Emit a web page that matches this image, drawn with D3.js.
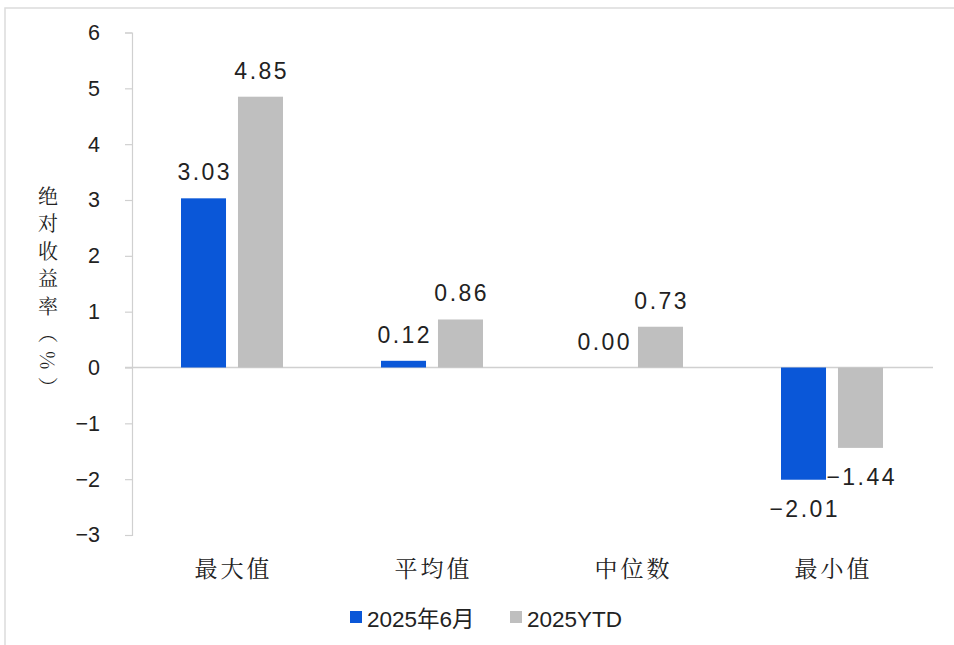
<!DOCTYPE html>
<html><head><meta charset="utf-8">
<script src="https://cdn.jsdelivr.net/npm/d3@7"></script>
<style>
body{margin:0;background:#fff;}
svg{display:block;}
</style></head>
<body>
<svg id="chart" width="954" height="645"></svg>
<script>
const categories = ["最大值", "平均值", "中位数", "最小值"];
const seriesNames = ["2025年6月", "2025YTD"];
const seriesJune = [3.03, 0.12, 0.00, -2.01];
const seriesYTD = [4.85, 0.86, 0.73, -1.44];
const yTicks = [6, 5, 4, 3, 2, 1, 0, -1, -2, -3];
const colors = ["#0a57d8", "#bfbfbf"];
const yTitle = "绝对收益率（%）";

const svg = d3.select("#chart");
const numFont = "'Liberation Sans', Arial, sans-serif";
const cjkSerif = "'Noto Serif CJK SC', 'Noto Sans CJK SC', serif";

// border
svg.append("rect").attr("x", 5).attr("y", 8).attr("width", 960).attr("height", 660)
  .attr("fill", "none").attr("stroke", "#dcdcdc").attr("stroke-width", 1.5);

const y = d3.scaleLinear().domain([-3, 6]).range([535, 32.5]);
const x0 = d3.scaleBand().domain(categories).range([132, 932]).padding(0);
const x1 = d3.scaleBand().domain(seriesNames).range([0, x0.bandwidth()])
  .paddingInner(0.21).paddingOuter(0.86);

// y axis
const yAxis = d3.axisLeft(y).tickValues(yTicks).tickSize(7).tickPadding(25)
  .tickFormat(d => d < 0 ? "\u2212" + Math.abs(d) : String(d));
const gy = svg.append("g").attr("transform", "translate(132,0)").call(yAxis);
gy.select(".domain").attr("stroke", "#d0d0d0").attr("stroke-width", 1.2);
gy.selectAll(".tick line").attr("stroke", "#d0d0d0").attr("stroke-width", 1.2);
gy.selectAll(".tick text").attr("font-family", numFont).attr("font-size", 21.5)
  .attr("fill", "#222");

// zero line
svg.append("line").attr("x1", 125).attr("x2", 933).attr("y1", y(0)).attr("y2", y(0))
  .attr("stroke", "#d0d0d0").attr("stroke-width", 1.5);

const data = categories.map((c, i) => ({cat: c, vals: [
  {s: seriesNames[0], v: seriesJune[i], c: colors[0]},
  {s: seriesNames[1], v: seriesYTD[i], c: colors[1]}]}));

const groups = svg.append("g").selectAll("g").data(data).join("g")
  .attr("transform", d => `translate(${x0(d.cat)},0)`);

groups.selectAll("rect").data(d => d.vals).join("rect")
  .attr("x", d => x1(d.s)).attr("width", x1.bandwidth())
  .attr("y", d => y(Math.max(0, d.v)))
  .attr("height", d => Math.abs(y(d.v) - y(0)))
  .attr("fill", d => d.c);

const fmt = v => (v < 0 ? "\u2212" : "") + Math.abs(v).toFixed(2);
groups.selectAll("text.lbl").data(d => d.vals).join("text").attr("class", "lbl")
  .attr("x", d => x1(d.s) + x1.bandwidth() / 2 + 1.25)
  .attr("y", d => d.v >= 0 ? y(d.v) - 18 : y(d.v) + 37)
  .attr("text-anchor", "middle")
  .attr("font-family", numFont).attr("font-size", 23).attr("letter-spacing", 2.5)
  .attr("fill", "#222")
  .text(d => fmt(d.v));

// category labels
svg.append("g").selectAll("text").data(categories).join("text")
  .attr("x", d => x0(d) + x0.bandwidth() / 2 + 1.5)
  .attr("y", 577)
  .attr("text-anchor", "middle")
  .attr("font-family", cjkSerif).attr("font-size", 23).attr("letter-spacing", 3)
  .attr("fill", "#222")
  .text(d => d);

// y title (vertical)
svg.append("text")
  .attr("x", 48).attr("y", 186)
  .attr("writing-mode", "vertical-rl")
  .style("writing-mode", "vertical-rl")
  .attr("font-family", cjkSerif).attr("font-size", 20).attr("letter-spacing", 7.5)
  .attr("fill", "#222")
  .text(yTitle);

// legend
const legX = [350, 510];
const leg = svg.append("g").selectAll("g").data(seriesNames).join("g")
  .attr("transform", (d, i) => `translate(${legX[i]},0)`);
leg.append("rect").attr("x", 0).attr("y", 611).attr("width", 12).attr("height", 12)
  .attr("fill", (d, i) => colors[i]);
leg.append("text").attr("x", 17).attr("y", 627)
  .attr("font-family", "'Liberation Sans', 'Noto Sans CJK SC', sans-serif")
  .attr("font-size", 22.5).attr("fill", "#222")
  .text(d => d);
</script>
</body></html>
